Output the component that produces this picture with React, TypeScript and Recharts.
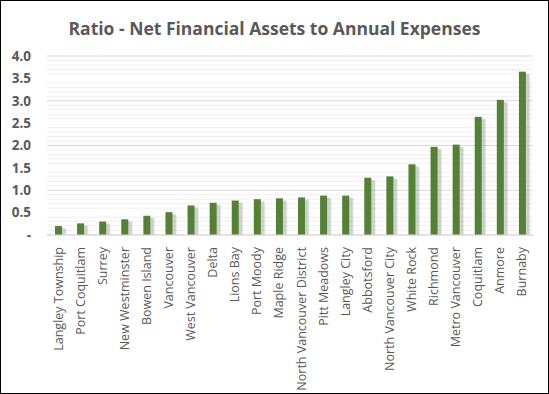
import React from 'react';
import { BarChart, Bar, XAxis, YAxis, CartesianGrid } from 'recharts';

const cities = [
  'Langley Township', 'Port Coquitlam', 'Surrey', 'New Westminster', 'Bowen Island',
  'Vancouver', 'West Vancouver', 'Delta', 'Lions Bay', 'Port Moody', 'Maple Ridge',
  'North Vancouver District', 'Pitt Meadows', 'Langley City', 'Abbotsford',
  'North Vancouver City', 'White Rock', 'Richmond', 'Metro Vancouver', 'Coquitlam',
  'Anmore', 'Burnaby',
];

const ratios = [
  0.2, 0.26, 0.3, 0.35, 0.43, 0.51, 0.66, 0.72, 0.77, 0.8, 0.82,
  0.84, 0.88, 0.88, 1.28, 1.31, 1.58, 1.97, 2.02, 2.64, 3.02, 3.65,
];

const majorTicks = [0, 0.5, 1, 1.5, 2, 2.5, 3, 3.5, 4];
const minorTicks = [
  0.1, 0.2, 0.3, 0.4, 0.6, 0.7, 0.8, 0.9, 1.1, 1.2, 1.3, 1.4, 1.6, 1.7, 1.8, 1.9,
  2.1, 2.2, 2.3, 2.4, 2.6, 2.7, 2.8, 2.9, 3.1, 3.2, 3.3, 3.4, 3.6, 3.7, 3.8, 3.9,
];

const data = cities.map((name, i) => ({ name, ratio: ratios[i] }));

const FONT = '"Open Sans", Calibri, sans-serif';
const GRAY = '#595959';
const Y_MAX = majorTicks[majorTicks.length - 1];

// bar with a soft drop shadow like the Excel original
const renderBar = (props: any) => {
  const x = Number(props.x);
  const y = Number(props.y);
  const width = Number(props.width);
  const height = Number(props.height);
  if (!(height > 0)) return <g />;
  return (
    <g>
      <rect x={x + 2} y={y + 2} width={width + 1.5} height={height - 2} fill="#7f7f7f" opacity={0.3} />
      <rect x={x + 3} y={y + 3} width={width + 1.5} height={height - 3} fill="#bfbfbf" opacity={0.3} />
      <rect x={x} y={y} width={width} height={height} fill="#548235" />
    </g>
  );
};

const XTick = (props: any) => {
  const { x, y, payload } = props;
  return (
    <text x={x} y={y} transform={`rotate(-90, ${x}, ${y})`} textAnchor="end" dominantBaseline="central"
      fontFamily={FONT} fontSize={12.5} fill={GRAY}>
      {payload.value}
    </text>
  );
};

// minor gridlines at every 0.1, drawn behind the bars
const minorLines = ({ offset }: any) =>
  minorTicks.map(v => offset.top + offset.height * (1 - v / Y_MAX));

export default function App() {
  return (
    <div style={{ position: 'absolute', left: 0, top: 0, width: 549, height: 394, boxSizing: 'border-box', border: '1px solid #000', background: '#fff' }}>
      <div style={{ position: 'absolute', left: 0, top: 15, width: 547, textAlign: 'center', fontFamily: FONT, fontWeight: 700, fontSize: 17.5, color: GRAY }}>
        Ratio - Net Financial Assets to Annual Expenses
      </div>
      <BarChart width={547} height={392} data={data} margin={{ top: 55, right: 15, bottom: 0, left: -12 }} barSize={7}>
        <CartesianGrid vertical={false} stroke="#f0f0f0" horizontalCoordinatesGenerator={minorLines} />
        <CartesianGrid vertical={false} stroke="#d9d9d9" />
        <XAxis dataKey="name" interval={0} tickLine={false} axisLine={{ stroke: '#d9d9d9' }}
          height={158} tick={<XTick />} tickMargin={6} />
        <YAxis domain={[0, Y_MAX]} ticks={majorTicks} axisLine={false} tickLine={false} width={58}
          tickFormatter={(v: number) => (v === 0 ? '-' : v.toFixed(1))} tickMargin={10}
          tick={{ fontFamily: FONT, fontSize: 13.5, fontWeight: 700, fill: GRAY }} />
        <Bar dataKey="ratio" fill="#548235" isAnimationActive={false} shape={renderBar} />
      </BarChart>
    </div>
  );
}
